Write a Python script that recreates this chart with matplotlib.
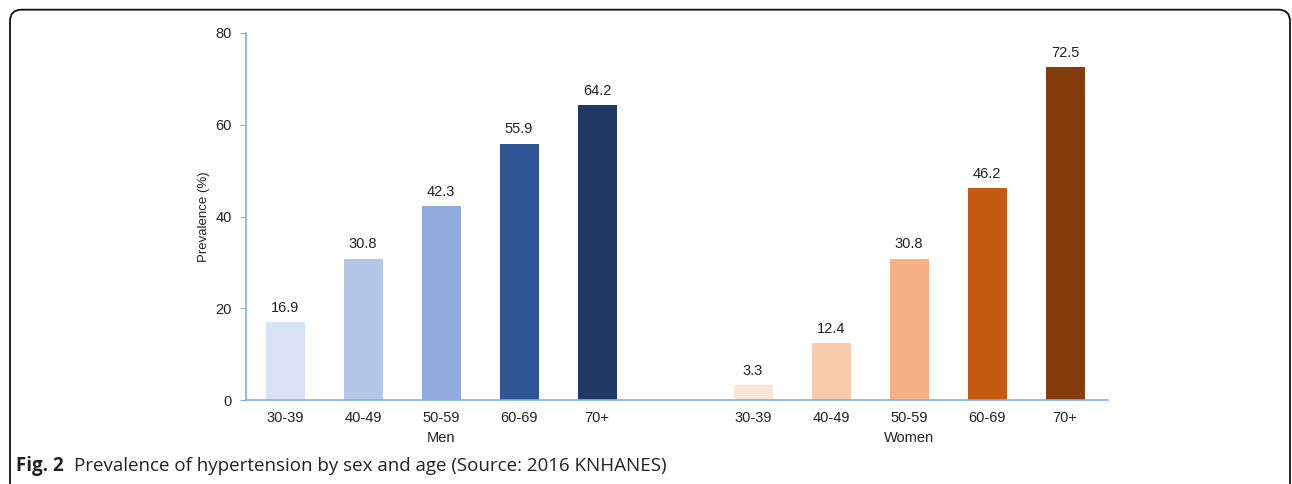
import matplotlib.pyplot as plt
from matplotlib.patches import FancyBboxPatch

plt.rcParams['font.family'] = ['Liberation Sans', 'DejaVu Sans']

ages = ['30-39', '40-49', '50-59', '60-69', '70+']
men = [16.9, 30.8, 42.3, 55.9, 64.2]
women = [3.3, 12.4, 30.8, 46.2, 72.5]
men_colors = ['#dae3f3', '#b4c7e7', '#8faadc', '#2f5597', '#1f3864']
women_colors = ['#fbe5d6', '#f8cbad', '#f4b183', '#c55a11', '#843c0c']

fig = plt.figure(figsize=(12.92, 4.84), dpi=100)
ax = fig.add_axes([246/1292, 84/484, (1108-246)/1292, 367/484])

xm = list(range(5))
xw = [i + 6 for i in range(5)]
bm = ax.bar(xm, men, width=0.5, color=men_colors)
bw = ax.bar(xw, women, width=0.5, color=women_colors)
for bars, vals in ((bm, men), (bw, women)):
    for b, v in zip(bars, vals):
        ax.text(b.get_x() + b.get_width()/2, v + 1.6, f'{v:.1f}',
                ha='center', va='bottom', fontsize=10.5, color='#222222')

ax.set_xlim(-0.5, 10.55)
ax.set_ylim(0, 80)
ax.set_yticks([0, 20, 40, 60, 80])
ax.set_xticks(xm + xw)
ax.set_xticklabels(ages + ages)
axis_c = '#7db3e8'
for s in ['top', 'right']:
    ax.spines[s].set_visible(False)
for s in ['left', 'bottom']:
    ax.spines[s].set_color(axis_c)
    ax.spines[s].set_linewidth(1.2)
ax.tick_params(axis='y', colors=axis_c, labelcolor='#222222', length=4, labelsize=10.5, pad=6)
ax.tick_params(axis='x', length=0, labelsize=10.5, labelcolor='#222222', pad=8)
ax.set_ylabel('Prevalence (%)', fontsize=9.5, color='#222222', labelpad=4)

ax.text(2, -8.3, 'Men', ha='center', va='center', fontsize=10.5, color='#222222')
ax.text(8, -8.3, 'Women', ha='center', va='center', fontsize=10.5, color='#222222')

frame = FancyBboxPatch((10/1292, -0.2), 1280/1292, 1.18,
                       boxstyle='round,pad=0,rounding_size=0.009',
                       transform=fig.transFigure, fill=False,
                       edgecolor='#111111', linewidth=1.3, mutation_aspect=2.67)
fig.patches.append(frame)

fig.text(16/1292, 1 - 466/484, 'Fig. 2', fontsize=13.5, fontweight='bold',
         family=['Open Sans', 'DejaVu Sans'], va='center', color='#222222')
fig.text(74/1292, 1 - 466/484, 'Prevalence of hypertension by sex and age (Source: 2016 KNHANES)',
         fontsize=13.5, family=['Open Sans', 'DejaVu Sans'], va='center', color='#222222')

fig.savefig('out.png', dpi=100)
